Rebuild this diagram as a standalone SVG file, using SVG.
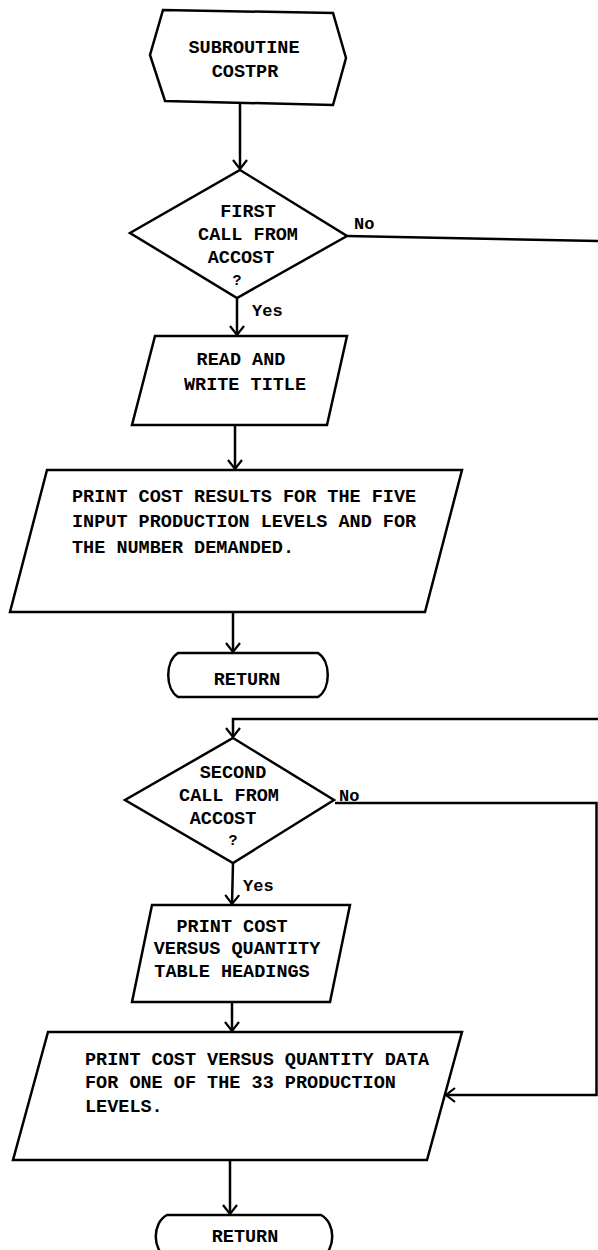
<svg xmlns="http://www.w3.org/2000/svg" width="598" height="1250" viewBox="0 0 598 1250">
<style>
.s{fill:#fff;stroke:#000;stroke-width:2.5;stroke-linejoin:miter}
.c{fill:none;stroke:#000;stroke-width:2.5}
.t{font-family:"Liberation Mono","DejaVu Sans Mono",monospace;font-size:18.5px;font-weight:bold;fill:#000}
.m{text-anchor:middle}
.l{font-size:17px}
.q{font-size:15px}
</style>
<defs>
<marker id="a" markerUnits="userSpaceOnUse" markerWidth="20" markerHeight="20" refX="0" refY="0" viewBox="-12 -10 14 20" orient="auto" overflow="visible">
<path d="M -9,-7 L 0,0 L -9,7" fill="none" stroke="#000" stroke-width="2.2"/>
</marker>
</defs>
<rect width="598" height="1250" fill="#fff"/>
<g id="connectors">
<path class="c" d="M 240,104 L 240,169" marker-end="url(#a)"/>
<path class="c" d="M 237,298 L 237,335" marker-end="url(#a)"/>
<path class="c" d="M 235,425 L 235,469" marker-end="url(#a)"/>
<path class="c" d="M 233,612 L 233,652" marker-end="url(#a)"/>
<path class="c" d="M 347,236 L 601,241 L 601,719 L 233,719 L 233,737" marker-end="url(#a)"/>
<path class="c" d="M 233,863 L 232,904" marker-end="url(#a)"/>
<path class="c" d="M 335,803 L 596.5,803 L 596.5,1095 L 446,1095" marker-end="url(#a)"/>
<path class="c" d="M 232,1002 L 232,1031" marker-end="url(#a)"/>
<path class="c" d="M 230,1160 L 230,1214" marker-end="url(#a)"/>
<text class="t l" x="252" y="316">Yes</text>
<text class="t l" x="354" y="229">No</text>
<text class="t l" x="339" y="801">No</text>
<text class="t l" x="243" y="891">Yes</text>
</g>
<g id="start">
<polygon class="s" points="163,10 333,13 346,58 333,105 165,101 150,55"/>
<text class="t m" x="244" y="53">SUBROUTINE</text>
<text class="t m" x="245" y="77">COSTPR</text>
</g>
<g id="decision1">
<polygon class="s" points="240,170 347,236 237,298 130,233"/>
<text class="t m" x="248" y="217">FIRST</text>
<text class="t m" x="248" y="240">CALL FROM</text>
<text class="t m" x="241" y="263">ACCOST</text>
<text class="t m q" x="237" y="285">?</text>
</g>
<g id="readtitle">
<polygon class="s" points="155,336 347,336 327,425 132,425"/>
<text class="t m" x="241" y="365">READ AND</text>
<text class="t m" x="245" y="390">WRITE TITLE</text>
</g>
<g id="print1">
<polygon class="s" points="47,470 462,470 425,612 10,612"/>
<text class="t" x="72" y="502">PRINT COST RESULTS FOR THE FIVE</text>
<text class="t" x="72" y="527">INPUT PRODUCTION LEVELS AND FOR</text>
<text class="t" x="72" y="553">THE NUMBER DEMANDED.</text>
</g>
<g id="return1">
<path class="s" d="M 178,653 L 318,653 C 331,661 331,689 318,697 L 178,697 C 165,689 165,661 178,653 Z"/>
<text class="t m" x="247" y="685">RETURN</text>
</g>
<g id="decision2">
<polygon class="s" points="233,738 334,800 233,863 125,800"/>
<text class="t m" x="233" y="778">SECOND</text>
<text class="t m" x="229" y="801">CALL FROM</text>
<text class="t m" x="223" y="824">ACCOST</text>
<text class="t m q" x="233" y="845">?</text>
</g>
<g id="headings">
<polygon class="s" points="152,905 350,905 330,1002 132,1002"/>
<text class="t m" x="232" y="932">PRINT COST</text>
<text class="t m" x="237" y="954">VERSUS QUANTITY</text>
<text class="t m" x="232" y="977">TABLE HEADINGS</text>
</g>
<g id="print2">
<polygon class="s" points="48,1032 462,1032 427,1160 13,1160"/>
<text class="t" x="85" y="1065">PRINT COST VERSUS QUANTITY DATA</text>
<text class="t" x="85" y="1088">FOR ONE OF THE 33 PRODUCTION</text>
<text class="t" x="85" y="1112">LEVELS.</text>
</g>
<g id="return2">
<path class="s" d="M 167,1215 L 321,1215 C 336,1223 336,1250 321,1258 L 167,1258 C 152,1250 152,1223 167,1215 Z"/>
<text class="t m" x="245" y="1242">RETURN</text>
</g>
</svg>
